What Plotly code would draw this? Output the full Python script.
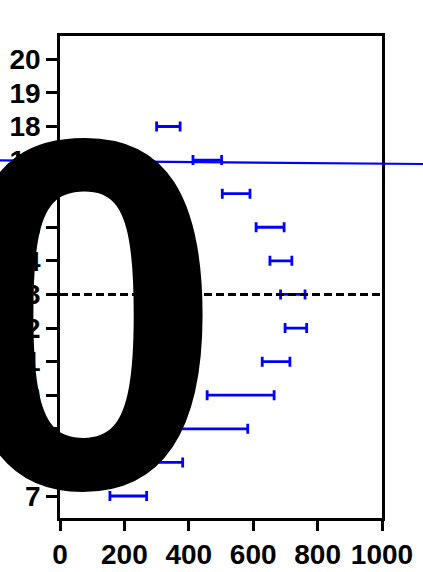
import plotly.graph_objects as go

# range bars (low / high) for each row
rows = [7, 8, 9, 10, 11, 12, 13, 14, 15, 16, 17, 18]
low = [155, 230, 330, 457, 628, 699, 685, 652, 609, 504, 413, 300]
high = [269, 381, 583, 665, 714, 766, 761, 720, 696, 590, 502, 373]

y_ticks = list(range(7, 21))
x_ticks = [0, 200, 400, 600, 800, 1000]
ref_row = 13
overlay_text = "0"

mid = [(a + b) / 2 for a, b in zip(low, high)]
half = [(b - a) / 2 for a, b in zip(low, high)]

fig = go.Figure()
fig.add_trace(go.Scatter(
    x=mid, y=rows, mode="markers",
    marker=dict(size=1, color="rgba(0,0,0,0)"),
    error_x=dict(type="data", array=half, symmetric=True,
                 color="#0000ff", thickness=2.8, width=5),
    showlegend=False, hoverinfo="skip"))

# dashed reference line across the plot
fig.add_shape(type="line", xref="paper", x0=0, x1=1, yref="y", y0=ref_row, y1=ref_row,
              line=dict(color="black", width=3, dash="8px,4px"))

# stray blue line running across the whole figure
fig.add_shape(type="line", xref="paper", yref="paper",
              x0=-0.1863, y0=0.7421, x1=1.1273, y1=0.7344,
              line=dict(color="#0000ff", width=2.2), layer="above")

fig.add_annotation(text=overlay_text, xref="paper", yref="paper",
                   x=0.0745, y=0.424, xanchor="center", yanchor="middle",
                   showarrow=False,
                   font=dict(family="Liberation Sans", size=500, color="black", weight="bold"))

axis_font = dict(family="Liberation Sans", size=28, color="black", weight="bold")
fig.update_xaxes(range=[0, 1000], tickvals=x_ticks, ticks="outside", ticklen=10, tickwidth=2.5,
                 tickcolor="black", showline=True, linewidth=2.5, linecolor="black", mirror=True,
                 showgrid=False, zeroline=False, tickfont=axis_font, automargin=False)
fig.update_yaxes(range=[6.345, 20.694], tickvals=y_ticks, ticks="outside", ticklen=11, tickwidth=2.5,
                 tickcolor="black", showline=True, linewidth=2.5, linecolor="black", mirror=True,
                 showgrid=False, zeroline=False, tickfont=axis_font, automargin=False)

fig.update_layout(width=423, height=572, margin=dict(l=60, r=41, t=36, b=54),
                  paper_bgcolor="white", plot_bgcolor="white")

fig.write_html("out.html", config={"displayModeBar": False},
               post_script="document.body.style.margin = '0';")
